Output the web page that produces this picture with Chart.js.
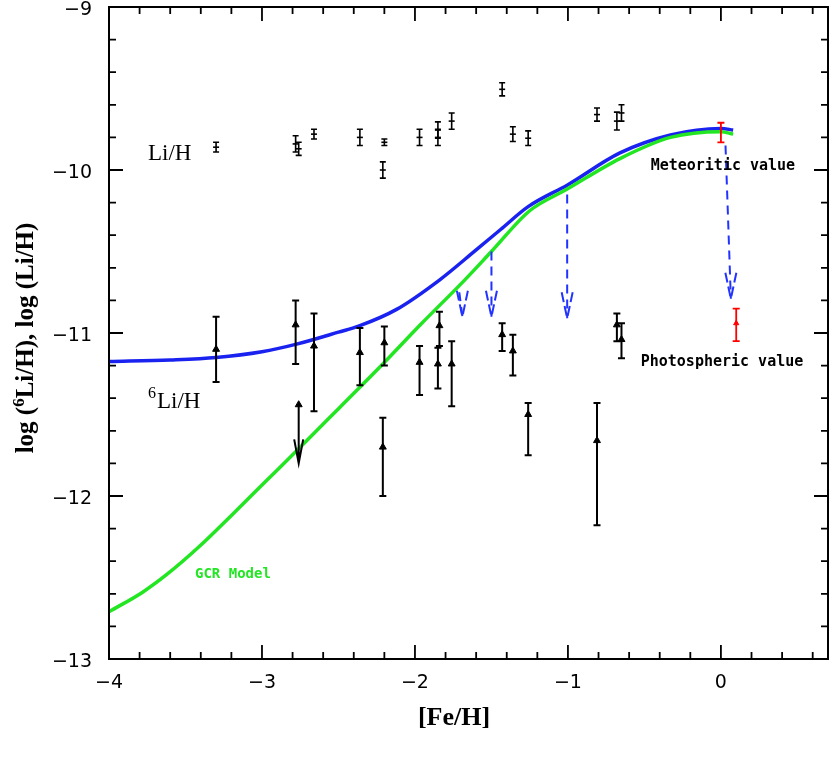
<!DOCTYPE html>
<html>
<head>
<meta charset="utf-8">
<script src="https://cdn.jsdelivr.net/npm/chart.js@4.4.1/dist/chart.umd.min.js"></script>
<style>
  html, body { margin: 0; padding: 0; background: #ffffff; }
  #wrap { width: 830px; height: 763px; }
</style>
</head>
<body>
<div id="wrap"><canvas id="chart" width="830" height="763"></canvas></div>
<script>
// ---- data ----
const xTicks = [-4, -3, -2, -1, 0];
const yTicks = [-13, -12, -11, -10, -9];

// Li/H points (symmetric errors)
const liFe  = [-3.30, -2.78, -2.76, -2.66, -2.36, -2.20, -2.21, -1.97, -1.85, -1.85, -1.76, -1.43, -1.36, -1.26, -0.81, -0.68, -0.65];
const liVal = [-9.86, -9.84, -9.87, -9.78, -9.80, -9.83, -10.00, -9.80, -9.755, -9.80, -9.70, -9.505, -9.78, -9.805, -9.66, -9.70, -9.65];
const liErr = [0.03, 0.05, 0.04, 0.03, 0.05, 0.02, 0.05, 0.05, 0.05, 0.05, 0.05, 0.04, 0.045, 0.045, 0.04, 0.055, 0.05];

// 6Li/H points (asymmetric errors)
const li6Fe  = [-3.30, -2.78, -2.66, -2.36, -2.20, -2.21, -1.97, -1.84, -1.85, -1.76, -1.43, -1.36, -1.26, -0.81, -0.68, -0.65];
const li6Val = [-11.10, -10.95, -11.08, -11.12, -11.06, -11.70, -11.18, -10.955, -11.19, -11.19, -11.01, -11.11, -11.50, -11.66, -10.95, -11.04];
const li6Hi  = [-10.90, -10.80, -10.88, -10.97, -10.96, -11.52, -11.08, -10.87, -11.09, -11.05, -10.94, -11.01, -11.43, -11.43, -10.88, -10.94];
const li6Lo  = [-11.30, -11.19, -11.48, -11.32, -11.20, -12.00, -11.38, -11.08, -11.34, -11.45, -11.11, -11.26, -11.75, -12.18, -11.05, -11.155];

// 6Li upper limit
const limFe  = [-2.76];
const limVal = [-11.44];
const limTo  = [-11.80];

// solar values (red)
const metFe = [0.0],  metVal = [-9.77],  metHi = [-9.71],  metLo = [-9.83];
const phoFe = [0.10], phoVal = [-10.94], phoHi = [-10.85], phoLo = [-11.05];

// model curves
const blueFe  = [-4.0, -3.6, -3.3, -3.0, -2.78, -2.5, -2.36, -2.12, -1.84, -1.6, -1.44, -1.26, -1.0, -0.66, -0.33, 0.0, 0.08];
const blueVal = [-11.175, -11.165, -11.15, -11.115, -11.07, -10.995, -10.955, -10.855, -10.675, -10.49, -10.365, -10.225, -10.09, -9.895, -9.785, -9.745, -9.755];
const greenFe  = [-4.0, -3.78, -3.62, -3.41, -3.19, -2.97, -2.76, -2.49, -2.21, -1.96, -1.68, -1.50, -1.25, -1.01, -0.66, -0.33, 0.0, 0.08];
const greenVal = [-12.71, -12.59, -12.48, -12.31, -12.11, -11.905, -11.71, -11.455, -11.19, -10.945, -10.68, -10.50, -10.25, -10.12, -9.93, -9.80, -9.765, -9.78];

// dashed depletion arrows (start -> tip)
const arrFe0 = [0.03, -1.005, -1.50, -1.71];
const arrY0  = [-9.85, -10.15, -10.50, -10.75];
const arrFe1 = [0.065, -1.005, -1.50, -1.69];
const arrY1  = [-10.79, -10.91, -10.90, -10.90];

const pts = (xs, ys) => xs.map((x, i) => ({ x: x, y: ys[i] }));
const minus = (v) => String(v).replace('-', '\u2212');

const framePlugin = {
    id: 'frame',
    afterDatasetsDraw(chart) {
        const ctx = chart.ctx;
        const xs = chart.scales.x, ys = chart.scales.y;
        const X = (v) => xs.getPixelForValue(v);
        const Y = (v) => ys.getPixelForValue(v);
        const a = chart.chartArea;
        ctx.save();

        // error bars
        const bar = (x, hi, lo, cap, w, color) => {
            ctx.strokeStyle = color;
            ctx.lineWidth = w;
            ctx.beginPath();
            ctx.moveTo(X(x), Y(hi)); ctx.lineTo(X(x), Y(lo));
            ctx.moveTo(X(x) - cap, Y(hi)); ctx.lineTo(X(x) + cap, Y(hi));
            ctx.moveTo(X(x) - cap, Y(lo)); ctx.lineTo(X(x) + cap, Y(lo));
            ctx.stroke();
        };
        liFe.forEach((f, i) => bar(f, liVal[i] + liErr[i], liVal[i] - liErr[i], 3, 1.6, '#000'));
        li6Fe.forEach((f, i) => bar(f, li6Hi[i], li6Lo[i], 3.5, 2, '#000'));
        metFe.forEach((f, i) => bar(f, metHi[i], metLo[i], 3.5, 1.8, '#ff0000'));
        phoFe.forEach((f, i) => bar(f, phoHi[i], phoLo[i], 3.5, 1.8, '#ff0000'));

        // upper limit arrow
        ctx.strokeStyle = '#000';
        ctx.lineWidth = 2;
        limFe.forEach((f, i) => {
            const x = X(f), y0 = Y(limVal[i]), y1 = Y(limTo[i]);
            ctx.beginPath();
            ctx.moveTo(x, y0); ctx.lineTo(x, y1);
            ctx.moveTo(x - 4.5, y1 - 24); ctx.lineTo(x, y1); ctx.lineTo(x + 4.5, y1 - 24);
            ctx.stroke();
        });

        // dashed blue arrows
        ctx.strokeStyle = '#2233ff';
        ctx.lineWidth = 2;
        ctx.setLineDash([9, 6]);
        arrFe0.forEach((f, i) => {
            const x0 = X(f), y0 = Y(arrY0[i]), x1 = X(arrFe1[i]), y1 = Y(arrY1[i]);
            ctx.beginPath();
            ctx.moveTo(x0, y0); ctx.lineTo(x1, y1);
            ctx.stroke();
            ctx.setLineDash([10, 4]);
            ctx.beginPath();
            ctx.moveTo(x1 - 5.5, y1 - 26); ctx.lineTo(x1, y1);
            ctx.moveTo(x1 + 5.5, y1 - 26); ctx.lineTo(x1, y1);
            ctx.stroke();
            ctx.setLineDash([9, 6]);
        });
        ctx.setLineDash([]);

        // frame and inward ticks on all sides
        ctx.strokeStyle = '#000';
        ctx.lineWidth = 2;
        ctx.strokeRect(a.left, a.top, a.right - a.left, a.bottom - a.top);
        ctx.lineWidth = 1.8;
        ctx.beginPath();
        for (let k = -40; k <= 7; k++) {
            const v = k / 10;
            if (k % 2 !== 0) continue;
            const len = (k % 10 === 0) ? 14 : 7;
            const x = X(v);
            if (x <= a.left + 1 || x >= a.right - 1) continue;
            ctx.moveTo(x, a.bottom); ctx.lineTo(x, a.bottom - len);
            ctx.moveTo(x, a.top); ctx.lineTo(x, a.top + len);
        }
        for (let k = -130; k <= -90; k += 2) {
            const v = k / 10;
            const len = (k % 10 === 0) ? 14 : 7;
            const y = Y(v);
            if (y <= a.top + 1 || y >= a.bottom - 1) continue;
            ctx.moveTo(a.left, y); ctx.lineTo(a.left + len, y);
            ctx.moveTo(a.right, y); ctx.lineTo(a.right - len, y);
        }
        ctx.stroke();

        // tick labels
        ctx.fillStyle = '#000';
        ctx.font = '19px "DejaVu Sans"';
        ctx.textBaseline = 'alphabetic';
        ctx.textAlign = 'center';
        xTicks.forEach((v) => ctx.fillText(minus(v), X(v), a.bottom + 29));
        ctx.textAlign = 'right';
        yTicks.forEach((v) => ctx.fillText(minus(v), a.left - 17, Y(v) + 8));

        // axis titles
        ctx.font = 'bold 26px "Liberation Serif"';
        ctx.textAlign = 'center';
        ctx.fillText('[Fe/H]', 454, 725);

        ctx.save();
        ctx.translate(33, 338);
        ctx.rotate(-Math.PI / 2);
        const big = 'bold 25px "Liberation Serif"', small = 'bold 17px "Liberation Serif"';
        const parts = [['log (', big, 0], ['6', small, -9], ['Li/H), log (Li/H)', big, 0]];
        let total = 0;
        parts.forEach((p) => { ctx.font = p[1]; total += ctx.measureText(p[0]).width; });
        let cx = -total / 2;
        ctx.textAlign = 'left';
        parts.forEach((p) => { ctx.font = p[1]; ctx.fillText(p[0], cx, p[2]); cx += ctx.measureText(p[0]).width; });
        ctx.restore();

        // annotations
        ctx.textAlign = 'left';
        ctx.font = '23px "Liberation Serif"';
        ctx.fillText('Li/H', X(-3.745), Y(-9.94));
        ctx.font = '16px "Liberation Serif"';
        ctx.fillText('6', X(-3.745), Y(-11.40));
        const w6 = ctx.measureText('6').width;
        ctx.font = '23px "Liberation Serif"';
        ctx.fillText('Li/H', X(-3.745) + w6 + 1, Y(-11.46));

        ctx.textAlign = 'center';
        ctx.textBaseline = 'middle';
        ctx.font = 'bold 15px "DejaVu Sans Mono"';
        ctx.fillText('Meteoritic value', X(0.013), Y(-9.975));
        ctx.fillText('Photospheric value', X(0.007), Y(-11.18));
        ctx.fillStyle = '#22e622';
        ctx.font = 'bold 14px "DejaVu Sans Mono"';
        ctx.fillText('GCR Model', X(-3.19), Y(-12.48));

        ctx.restore();
    }
};

new Chart(document.getElementById('chart'), {
    type: 'scatter',
    data: {
        datasets: [
            { data: pts(greenFe, greenVal), showLine: true, borderColor: '#22e622', borderWidth: 3.5, pointRadius: 0, cubicInterpolationMode: 'monotone' },
            { data: pts(blueFe, blueVal), showLine: true, borderColor: '#1a22f0', borderWidth: 3.5, pointRadius: 0, cubicInterpolationMode: 'monotone' },
            { data: pts(liFe, liVal), pointStyle: 'line', pointRadius: 3, borderColor: '#000', borderWidth: 1.6 },
            { data: pts(li6Fe, li6Val), pointStyle: 'triangle', pointRadius: 4, backgroundColor: '#000', borderColor: '#000', borderWidth: 1 },
            { data: pts(limFe, limVal), pointStyle: 'triangle', pointRadius: 4, backgroundColor: '#000', borderColor: '#000', borderWidth: 1 },
            { data: pts(phoFe, phoVal), pointStyle: 'triangle', pointRadius: 3, backgroundColor: '#ff0000', borderColor: '#ff0000', borderWidth: 1 }
        ]
    },
    options: {
        responsive: false,
        animation: false,
        devicePixelRatio: 1,
        layout: { autoPadding: false, padding: { top: 7, right: 2, left: 0, bottom: 0 } },
        plugins: { legend: { display: false }, tooltip: { enabled: false } },
        scales: {
            x: {
                type: 'linear', min: -4, max: 0.7,
                grid: { display: false }, border: { display: false },
                ticks: { display: false },
                afterFit: (s) => { s.height = 104; }
            },
            y: {
                type: 'linear', min: -13, max: -9,
                grid: { display: false }, border: { display: false },
                ticks: { display: false },
                afterFit: (s) => { s.width = 109; }
            }
        }
    },
    plugins: [framePlugin]
});
</script>
</body>
</html>
